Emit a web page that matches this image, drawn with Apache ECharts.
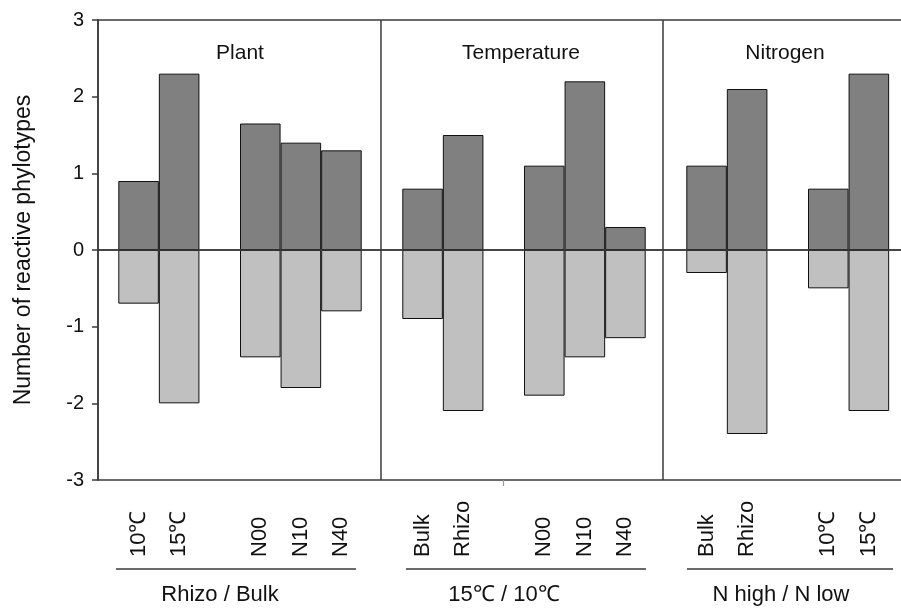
<!DOCTYPE html>
<html><head><meta charset="utf-8">
<script src="https://cdn.jsdelivr.net/npm/echarts@6/dist/echarts.min.js"></script>
<style>html,body{margin:0;padding:0;background:#fff}#c{width:901px;height:609px}</style>
</head><body><div id="c"></div><script>
// slots: blank strings are spacer slots between groups/panels
const categories = ['', '10℃', '15℃', '', 'N00', 'N10', 'N40', '', 'Bulk', 'Rhizo', '', 'N00', 'N10', 'N40', '', 'Bulk', 'Rhizo', '', '10℃', '15℃', '', ''];
const positiveValues = [null, 0.9, 2.3, null, 1.65, 1.4, 1.3, null, 0.8, 1.5, null, 1.1, 2.2, 0.3, null, 1.1, 2.1, null, 0.8, 2.3, null, null];
const negativeValues = [null, -0.7, -2.0, null, -1.4, -1.8, -0.8, null, -0.9, -2.1, null, -1.9, -1.4, -1.15, null, -0.3, -2.4, null, -0.5, -2.1, null, null];
const yMin = -3, yMax = 3, yStep = 1;
const panelTitles = ['Plant', 'Temperature', 'Nitrogen'];
const groupLabels = ['Rhizo / Bulk', '15℃ / 10℃', 'N high / N low'];
const yTitle = 'Number of reactive phylotypes';

const FONT = 'Liberation Sans';
const AX = '#3a3a3a';
const chart = echarts.init(document.getElementById('c'), null, {renderer: 'canvas'});

const titlePos = [[240, 53], [521, 53], [785, 53]];
const groupPos = [[220, 595], [504, 595], [781, 595]];
const lines = [[116, 356], [406, 646], [687, 893]];

const graphic = [];
panelTitles.forEach((t, i) => graphic.push({type: 'text', x: titlePos[i][0], y: titlePos[i][1],
  style: {text: t, font: '21px "' + FONT + '"', fill: '#111', textAlign: 'center', textVerticalAlign: 'middle'}}));
groupLabels.forEach((t, i) => graphic.push({type: 'text', x: groupPos[i][0], y: groupPos[i][1],
  style: {text: t, font: '22px "' + FONT + '"', fill: '#111', textAlign: 'center', textVerticalAlign: 'middle'}}));
lines.forEach(l => graphic.push({type: 'line', shape: {x1: l[0], y1: 569, x2: l[1], y2: 569},
  style: {stroke: '#6a6a6a', lineWidth: 2}}));

chart.setOption({
  animation: false,
  backgroundColor: '#fff',
  textStyle: {fontFamily: FONT},
  grid: {left: 98, top: 20, width: 852, height: 460, containLabel: false, outerBoundsMode: 'none',
    show: true, borderColor: AX, borderWidth: 1.5, backgroundColor: 'transparent'},
  xAxis: [{
    type: 'category', data: categories, boundaryGap: false, position: 'bottom',
    axisLine: {lineStyle: {color: AX, width: 1.5}},
    axisTick: {interval: (i, v) => v !== '', length: 7, lineStyle: {color: AX, width: 1.5}},
    axisLabel: {interval: 0, rotate: 90, align: 'left', verticalAlign: 'middle', margin: 77, fontSize: 22, color: '#111', fontFamily: FONT},
    splitLine: {show: false}
  }, {
    type: 'category', data: categories, boundaryGap: false, position: 'bottom',
    axisLine: {show: false},
    axisTick: {interval: (i) => i === 10, length: 6, lineStyle: {color: '#9a9a9a', width: 1.2}},
    axisLabel: {show: false}, splitLine: {show: false}
  }, {
    type: 'value', min: 0, max: 21, show: false, splitLine: {show: false}
  }],
  yAxis: {
    type: 'value', min: yMin, max: yMax, interval: yStep,
    name: yTitle, nameLocation: 'middle', nameGap: 63, nameRotate: 90,
    nameTextStyle: {fontSize: 23, color: '#111', fontFamily: FONT},
    axisLine: {show: true, lineStyle: {color: AX, width: 1.5}},
    axisTick: {show: true, length: 6, lineStyle: {color: AX, width: 1.5}},
    axisLabel: {fontSize: 20, color: '#111', margin: 14, fontFamily: FONT},
    splitLine: {show: false}
  },
  series: [{
    type: 'bar', xAxisIndex: 0, data: negativeValues, barWidth: '100%', barGap: '-100%',
    itemStyle: {color: '#c0c0c0', borderColor: '#111', borderWidth: 1}
  }, {
    type: 'bar', xAxisIndex: 0, data: positiveValues, barWidth: '100%', barGap: '-100%',
    itemStyle: {color: '#808080', borderColor: '#111', borderWidth: 1},
    markLine: {silent: true, symbol: 'none', label: {show: false},
      lineStyle: {color: AX, width: 1.5, type: 'solid'}, data: [{yAxis: 0}]}
  }, {
    type: 'line', xAxisIndex: 2, data: [[0, 0]], showSymbol: false, symbol: 'none', lineStyle: {opacity: 0},
    markLine: {silent: true, symbol: 'none', label: {show: false},
      lineStyle: {color: AX, width: 1.5, type: 'solid'}, data: [{xAxis: 6.97}, {xAxis: 13.93}]}
  }],
  graphic: graphic
});
</script></body></html>
